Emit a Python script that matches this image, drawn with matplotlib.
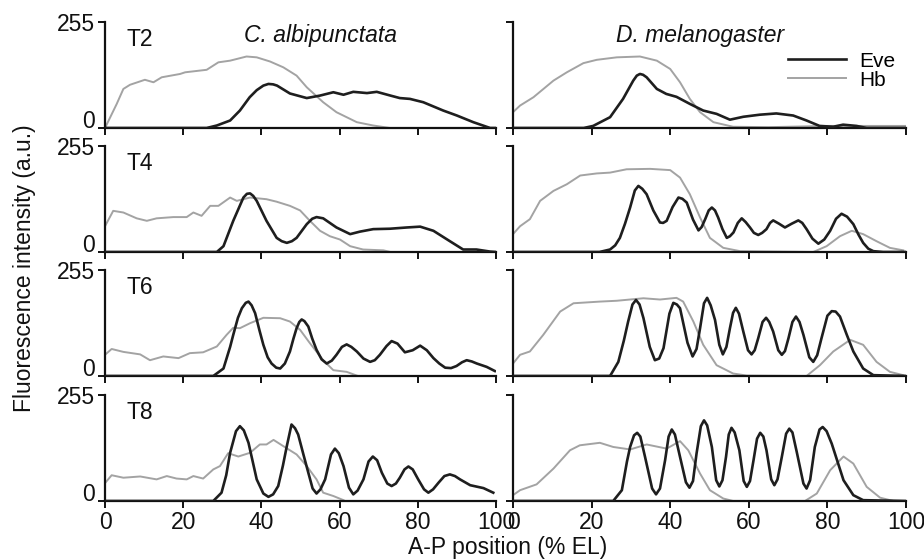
import matplotlib
matplotlib.use("Agg")
import matplotlib.pyplot as plt

plt.rcParams['font.family'] = ['Liberation Sans', 'DejaVu Sans']

# ---------------- data (A-P position %EL, intensity a.u.) ----------------
# C. albipunctata
ca_t2_hb_x = [0, 3, 4.7, 6.4, 10.2, 12.4, 14.5, 19.2, 20.5, 26, 29, 32, 36.2, 38.8, 42.2, 45.6, 49, 51.6, 55.8, 59.2, 64.4, 68.6, 72.9]
ca_t2_hb_y = [0, 58, 94, 104, 116, 110, 122, 130, 134, 140, 158, 162, 172, 170, 160, 146, 126, 98, 62, 38, 14, 6, 0]
ca_t2_eve_x = [0, 26, 28.6, 32, 34.5, 37, 38.8, 40.5, 41.8, 43.0, 44, 47.3, 51.6, 55, 58.4, 61, 63.5, 67, 69.5, 73, 75.4, 78, 81.4, 86.5, 90, 94.2, 98.5, 100]
ca_t2_eve_y = [0, 0, 6, 18, 42, 74, 91, 102, 106, 105, 102, 83, 72, 78, 86, 80, 87, 84, 87, 78, 72, 70, 62, 42, 30, 14, 0, 0]

ca_t4_hb_x = [0, 2.1, 4.7, 8.1, 10.7, 13.2, 17.5, 20.9, 22.6, 24.7, 26.9, 29, 32, 33.7, 37.1, 41.3, 43.9, 47.3, 49.9, 52.4, 55, 57.5, 60.1, 62.7, 66, 71.2, 73]
ca_t4_hb_y = [62, 99, 95, 81, 75, 81, 84, 84, 95, 87, 111, 111, 131, 123, 131, 127, 121, 111, 100, 75, 51, 38, 30, 14, 6, 4, 0]
ca_t4_eve_x = [0, 28.6, 30.3, 32.8, 35.4, 36.3, 37.1, 37.9, 38.8, 41.3, 43.9, 45.2, 46.5, 47.8, 49, 51.6, 53.0, 54.1, 55.8, 59.2, 62.7, 65.2, 68.6, 72.9, 77.2, 80.6, 84, 88.2, 91.6, 95, 98.5, 100]
ca_t4_eve_y = [0, 0, 14, 75, 131, 140, 141, 135, 123, 75, 34, 26, 22, 26, 34, 67, 80, 84, 81, 59, 43, 49, 55, 56, 59, 61, 51, 26, 6, 6, 1, 0]

ca_t6_hb_x = [0, 1.7, 4.7, 9, 11.5, 14.9, 18.8, 21.7, 25.1, 28.6, 31.1, 32.8, 34.5, 37.1, 40.5, 44.8, 47.3, 49.9, 52.4, 55.8, 58.4, 61.8, 64.4]
ca_t6_hb_y = [51, 65, 58, 52, 38, 47, 43, 55, 57, 71, 99, 116, 115, 127, 140, 139, 131, 111, 79, 38, 14, 10, 1]
ca_t6_eve_x = [0, 27.7, 30.3, 32.0, 32.8, 34.0, 35, 36.0, 36.7, 37.5, 38.4, 39.5, 40.5, 41.6, 42.6, 43.8, 44.8, 46.0, 47.3, 48.2, 49, 49.7, 50.3, 51.0, 52, 53.0, 54.1, 55.4, 56.7, 58.0, 59.2, 60.6, 61.8, 63.0, 64.4, 66.1, 67.8, 69.0, 70.3, 72.0, 73.3, 74.8, 76.7, 78.7, 80.6, 82.3, 84, 85.5, 87, 88.5, 89.9, 91.3, 92.5, 93.8, 95.1, 97.6, 99.7]
ca_t6_eve_y = [0, 0, 18, 70, 99, 140, 163, 176, 179, 170, 151, 110, 75, 45, 30, 20, 18, 30, 59, 90, 115, 130, 136, 132, 119, 90, 63, 40, 30, 37, 51, 70, 76, 70, 59, 42, 34, 38, 51, 72, 84, 78, 57, 62, 73, 62, 43, 30, 20, 19, 24, 33, 38, 35, 30, 22, 12]

ca_t8_hb_x = [0, 1.7, 4.7, 9, 13.2, 15.8, 18.3, 20.9, 22.6, 25.1, 27.7, 29.4, 31.5, 34.1, 37.1, 39.6, 41.3, 43.1, 45.6, 49, 51.6, 54.1, 55.8, 58.4, 61]
ca_t8_hb_y = [43, 62, 56, 59, 52, 60, 54, 52, 60, 54, 76, 84, 115, 107, 116, 136, 136, 147, 132, 112, 84, 52, 20, 12, 2]
ca_t8_eve_x = [0, 27.7, 29.8, 31.0, 32, 33.5, 34.5, 35.5, 36.7, 38.8, 40.5, 41.8, 43.0, 44.3, 45.5, 46.5, 47.7, 48.6, 49.4, 50.8, 52, 53.1, 54.1, 55.1, 56.3, 57.8, 58.8, 59.8, 61, 62.4, 63.5, 64.6, 66.1, 67.4, 68.5, 69.6, 70.8, 72.2, 73.3, 74.4, 75.4, 76.6, 77.6, 78.7, 80.1, 81.6, 82.7, 83.9, 85.3, 86.8, 88.2, 89.5, 90.8, 93.4, 96.8, 99.3]
ca_t8_eve_y = [0, 0, 20, 62, 116, 168, 180, 170, 140, 52, 18, 10, 16, 36, 85, 132, 184, 175, 160, 110, 68, 30, 18, 28, 52, 112, 126, 115, 84, 32, 16, 25, 52, 95, 107, 98, 68, 42, 36, 42, 56, 76, 83, 76, 52, 28, 20, 28, 44, 60, 64, 60, 52, 38, 31, 20]

# D. melanogaster
dm_t2_hb_x = [0, 1.8, 5.2, 10.3, 13.7, 17.9, 21.3, 26.4, 32.3, 36.6, 40, 42.5, 45, 47.6, 51, 56, 65, 80, 100]
dm_t2_hb_y = [38, 54, 74, 114, 134, 156, 164, 170, 172, 162, 142, 110, 70, 38, 14, 3, 2, 5, 5]
dm_t2_eve_x = [0, 18, 20.4, 24.7, 28, 30.6, 31.5, 32.3, 33.1, 34, 36.6, 39, 41.6, 45, 48.4, 51.8, 55.2, 58.6, 62.8, 67, 71.3, 74.7, 78, 81.5, 84, 87.4, 90, 100]
dm_t2_eve_y = [0, 0, 5, 26, 70, 114, 126, 130, 128, 122, 94, 82, 75, 58, 42, 34, 20, 27, 32, 35, 30, 18, 5, 3, 8, 5, 0, 0]

dm_t4_hb_x = [0, 1.8, 4.3, 6.9, 10.3, 13.7, 17.1, 21.3, 24.7, 28.9, 34.9, 40, 42.5, 45, 47.6, 50.1, 53.5, 57.8, 76.4, 79.8, 83.2, 86.2, 89.1, 92.5, 95.9, 99.3]
dm_t4_hb_y = [43, 62, 79, 123, 147, 163, 184, 189, 191, 199, 200, 197, 179, 139, 83, 34, 10, 2, 0, 14, 38, 51, 43, 26, 10, 4]
dm_t4_eve_x = [0, 22, 24.7, 26.0, 27.2, 28.5, 29.8, 31.0, 31.9, 32.9, 34, 35.7, 37.4, 38.2, 39.1, 40.6, 42.1, 43.1, 44.2, 45.8, 47.2, 48.0, 48.9, 49.8, 50.6, 51.4, 52.2, 53.3, 54.4, 55.2, 56.1, 57.2, 58.2, 59.2, 60.3, 61.3, 62.4, 63.4, 64.5, 65.4, 66.2, 67.7, 69.2, 70.9, 72.6, 73.6, 74.7, 76.2, 77.7, 79.2, 80.7, 82.2, 83.6, 85.0, 86.6, 87.9, 89.1, 90.4, 91.7, 94.2, 100]
dm_t4_eve_y = [0, 0, 6, 16, 34, 68, 107, 148, 159, 152, 139, 100, 71, 70, 75, 108, 131, 128, 119, 78, 52, 60, 79, 100, 107, 100, 83, 55, 34, 38, 47, 70, 81, 72, 59, 46, 41, 46, 55, 70, 76, 68, 59, 68, 76, 70, 55, 32, 20, 30, 51, 80, 92, 85, 67, 42, 22, 8, 2, 0, 0]

dm_t6_hb_x = [0, 1.8, 4.3, 7.7, 12, 15.4, 22.1, 26.4, 33.2, 37.4, 41.6, 43.3, 45.9, 48.4, 51.8, 56, 59.5, 74.7, 78.1, 81.5, 85.8, 89.1, 92.5, 95.9, 99.3]
dm_t6_hb_y = [30, 51, 59, 99, 155, 175, 179, 181, 187, 184, 188, 179, 131, 75, 26, 6, 1, 0, 26, 59, 87, 75, 34, 10, 2]
dm_t6_eve_x = [0, 24.7, 26.8, 28.2, 29.3, 30.4, 31.3, 32.2, 33.2, 34.8, 36.1, 37.2, 38.3, 39.8, 40.8, 41.7, 42.5, 44.4, 45.7, 46.7, 47.6, 48.6, 49.4, 50.3, 51.4, 52.5, 53.4, 54.3, 55.2, 56.0, 56.7, 57.5, 58.6, 59.8, 60.7, 61.5, 62.4, 63.5, 64.4, 65.2, 66.2, 67.5, 68.4, 69.2, 70.1, 71.1, 72.0, 72.9, 73.9, 75.4, 76.4, 77.4, 78.5, 80.0, 81.1, 82.1, 83.2, 84.9, 86.6, 89.1, 91.7, 100]
dm_t6_eve_y = [0, 0, 34, 85, 131, 172, 183, 172, 139, 70, 38, 42, 67, 150, 176, 172, 163, 80, 47, 65, 115, 175, 188, 170, 135, 75, 52, 70, 115, 152, 164, 150, 107, 62, 52, 62, 91, 130, 140, 130, 107, 62, 51, 60, 91, 130, 143, 130, 99, 45, 34, 50, 91, 145, 156, 155, 143, 100, 59, 18, 2, 0]

dm_t8_hb_x = [0, 1.8, 6, 10.3, 14.5, 17, 22.1, 25.5, 29.8, 34, 39.1, 42.5, 44.6, 47.6, 50.1, 53.5, 56, 74.3, 77.3, 80.7, 84.1, 86.6, 90, 93.4, 96.8, 100]
dm_t8_hb_y = [14, 26, 40, 78, 122, 134, 140, 130, 124, 136, 126, 144, 122, 66, 26, 6, 0, 0, 18, 74, 107, 90, 34, 8, 0, 0]
dm_t8_eve_x = [0, 25.5, 27.7, 29.0, 29.8, 30.8, 31.6, 32.4, 33.6, 35.4, 36.4, 37.4, 38.7, 39.6, 40.4, 41.2, 42.5, 44.0, 44.9, 45.8, 46.7, 47.8, 48.6, 49.4, 50.6, 51.7, 52.5, 53.3, 54.2, 54.9, 55.6, 56.4, 57.6, 58.7, 59.5, 60.3, 61.2, 62.1, 62.9, 63.7, 64.5, 65.7, 66.5, 67.3, 68.4, 69.5, 70.3, 71.1, 72.2, 73.9, 74.7, 75.6, 76.8, 78.0, 78.8, 79.8, 81.1, 84.1, 86.6, 89.1, 100]
dm_t8_eve_y = [0, 0, 26, 95, 130, 158, 164, 155, 106, 30, 16, 30, 98, 155, 172, 160, 106, 45, 32, 48, 114, 180, 194, 182, 130, 50, 35, 50, 106, 160, 176, 165, 122, 48, 34, 48, 98, 150, 164, 155, 122, 52, 38, 52, 106, 162, 174, 165, 118, 42, 30, 50, 130, 172, 178, 168, 138, 50, 14, 2, 0]

stages = ["T2", "T4", "T6", "T8"]
species = ["C. albipunctata", "D. melanogaster"]
x_ticks = [0, 20, 40, 60, 80, 100]
y_ticks = [0, 255]

panels = [
    [(ca_t2_eve_x, ca_t2_eve_y, ca_t2_hb_x, ca_t2_hb_y), (dm_t2_eve_x, dm_t2_eve_y, dm_t2_hb_x, dm_t2_hb_y)],
    [(ca_t4_eve_x, ca_t4_eve_y, ca_t4_hb_x, ca_t4_hb_y), (dm_t4_eve_x, dm_t4_eve_y, dm_t4_hb_x, dm_t4_hb_y)],
    [(ca_t6_eve_x, ca_t6_eve_y, ca_t6_hb_x, ca_t6_hb_y), (dm_t6_eve_x, dm_t6_eve_y, dm_t6_hb_x, dm_t6_hb_y)],
    [(ca_t8_eve_x, ca_t8_eve_y, ca_t8_hb_x, ca_t8_hb_y), (dm_t8_eve_x, dm_t8_eve_y, dm_t8_hb_x, dm_t8_hb_y)],
]

W, H = 924, 560
fig = plt.figure(figsize=(W / 100, H / 100), dpi=100)

col_left = [105, 513]
col_width = [391, 393]
row_top = [22, 146, 270, 395]
row_h = 106

EVE_C = "#1e1e1e"
HB_C = "#a3a3a3"
FS = 16.5

for r in range(4):
    for c in range(2):
        l = col_left[c] / W
        b = 1 - (row_top[r] + row_h) / H
        ax = fig.add_axes([l, b, col_width[c] / W, row_h / H])
        ex, ey, hx, hy = panels[r][c]
        h_hb, = ax.plot(hx, hy, color=HB_C, lw=1.4, label="Hb", zorder=2,
                        solid_joinstyle="round")
        h_eve, = ax.plot(ex, ey, color=EVE_C, lw=1.9, label="Eve", zorder=3,
                         solid_joinstyle="round")
        ax.set_xlim(0, 100)
        ax.set_ylim(0, 255)
        ax.set_xticks(x_ticks)
        ax.set_yticks(y_ticks)
        for s in ["top", "right"]:
            ax.spines[s].set_visible(False)
        for s in ["left", "bottom"]:
            ax.spines[s].set_linewidth(1.6)
            ax.spines[s].set_color("#111111")
        ax.tick_params(direction="out", length=5, width=1.4, labelsize=FS, pad=2,
                       colors="#111111")
        if r < 3:
            ax.set_xticklabels([])
        if c == 1:
            ax.set_yticklabels([])
        else:
            ax.yaxis.get_major_ticks()[0].label1.set_verticalalignment("baseline")
        ax.patch.set_alpha(0)
        if c == 0:
            ax.text(0.055, 0.94, stages[r], transform=ax.transAxes, fontsize=FS,
                    ha="left", va="top", color="#111111")
        if r == 0:
            ax.text([0.55, 0.476][c], 0.98, species[c], transform=ax.transAxes,
                    fontsize=FS, style="italic", ha="center", va="top", color="#111111")
        if r == 0 and c == 1:
            ax.legend([h_eve, h_hb], ["Eve", "Hb"], loc="upper right",
                      bbox_to_anchor=(0.972, 0.72), frameon=False, fontsize=15,
                      handlelength=2.8, handletextpad=0.6, labelspacing=0.0,
                      borderaxespad=0.0, borderpad=0.0)

fig.text(0.549, 0.022, "A-P position (% EL)", ha="center", va="center", fontsize=FS,
         color="#111111")
fig.text(0.026, 0.521, "Fluorescence intensity (a.u.)", ha="center", va="center",
         rotation=90, fontsize=FS, color="#111111")

fig.savefig("out.png", dpi=100)
